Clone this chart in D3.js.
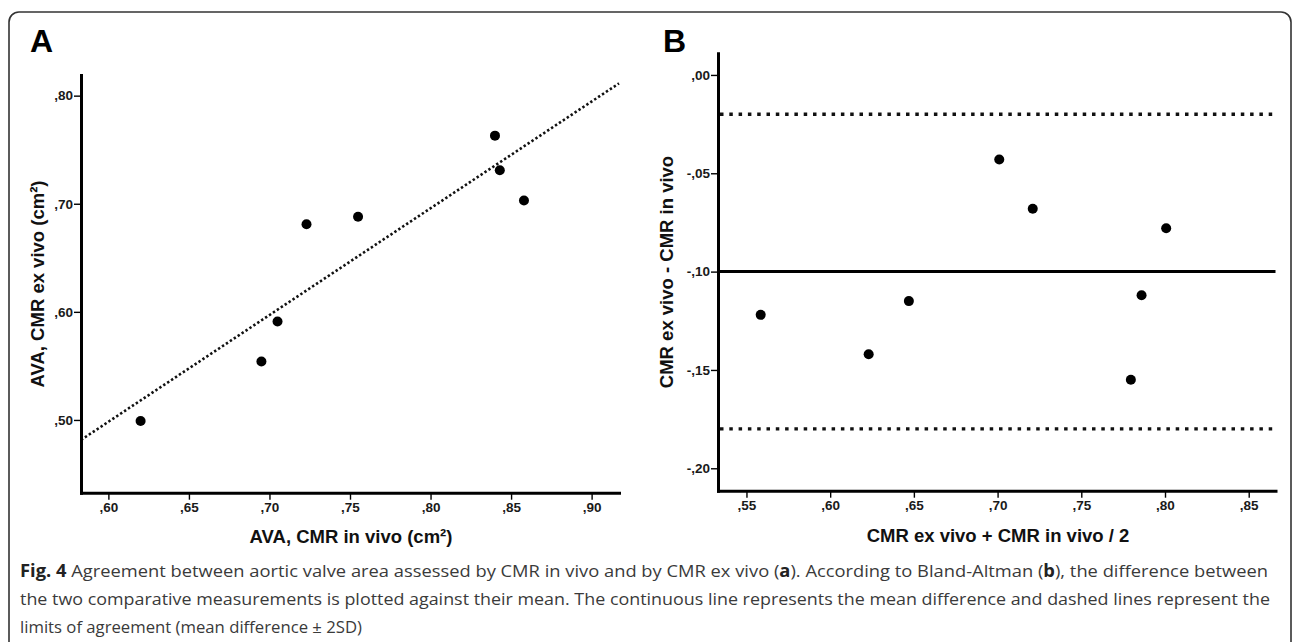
<!DOCTYPE html>
<html>
<head>
<meta charset="utf-8">
<script src="https://cdn.jsdelivr.net/npm/d3@7/dist/d3.min.js"></script>
<style>
  html, body { margin: 0; padding: 0; background: #fff; }
  svg { display: block; }
  .tick text { font-family: "Liberation Sans Narrow", "Liberation Sans", Arial, sans-serif; font-size: 13.5px; font-weight: bold; fill: #1a1a1a; }
  .axis-title { font-family: "Liberation Sans", Arial, sans-serif; font-weight: bold; fill: #111; }
  .caption { font-family: "Open Sans", sans-serif; font-size: 17px; fill: #3a3a3a; }
</style>
</head>
<body>
<script>
// panel A: AVA in vivo vs ex vivo (cm²)
var avaInVivo = [0.620, 0.695, 0.705, 0.723, 0.755, 0.840, 0.843, 0.858];
var avaExVivo = [0.499, 0.554, 0.591, 0.681, 0.688, 0.763, 0.731, 0.703];

// panel B: Bland-Altman, mean vs difference
var baMean = [0.5585, 0.623, 0.647, 0.701, 0.721, 0.7796, 0.786, 0.8007];
var baDiff = [-0.122, -0.142, -0.115, -0.043, -0.068, -0.155, -0.112, -0.078];
var meanDifference = -0.100;
var limitsOfAgreement = [-0.020, -0.180];

var ticksAX = [0.60, 0.65, 0.70, 0.75, 0.80, 0.85, 0.90];
var ticksAY = [0.50, 0.60, 0.70, 0.80];
var ticksBX = [0.55, 0.60, 0.65, 0.70, 0.75, 0.80, 0.85];
var ticksBY = [0.00, -0.05, -0.10, -0.15, -0.20];

// [text, bold]
var captionLines = [
    [["Fig. 4", true], [" Agreement between aortic valve area assessed by CMR in vivo and by CMR ex vivo (", false], ["a", true], ["). According to Bland-Altman (", false], ["b", true], ["), the difference between", false]],
    [["the two comparative measurements is plotted against their mean. The continuous line represents the mean difference and dashed lines represent the", false]],
    [["limits of agreement (mean difference \u00b1 2SD)", false]]
];
var captionWidths = [1248, 1250, 342];

var W = 1292, H = 642;
var svg = d3.select("body").append("svg").attr("width", W).attr("height", H);

svg.append("rect").attr("x", 9).attr("y", 12).attr("width", 1282).attr("height", 700)
    .attr("rx", 10).attr("fill", "none").attr("stroke", "#333").attr("stroke-width", 1.6);

// comma decimal like SPSS: ,80 / -,05
function spssFmt(v) {
    var s = d3.format(".2f")(Math.abs(v)).replace("0.", ",");
    return (v < -1e-9 ? "-" : "") + s;
}

function drawAxes(g, x, y, xt, yt) {
    var xa = g.append("g").attr("transform", "translate(0," + y.range()[0] + ")")
        .call(d3.axisBottom(x).tickValues(xt).tickFormat(spssFmt).tickSize(7).tickSizeOuter(0).tickPadding(3));
    var ya = g.append("g").attr("transform", "translate(" + x.range()[0] + ",0)")
        .call(d3.axisLeft(y).tickValues(yt).tickFormat(spssFmt).tickSize(7).tickSizeOuter(0).tickPadding(1));
    [xa, ya].forEach(function (a) {
        a.select(".domain").attr("stroke", "#000").attr("stroke-width", 3).attr("stroke-linecap", "square");
        a.selectAll(".tick line").attr("stroke", "#000").attr("stroke-width", 1.4);
    });
}

// ---------- panel A ----------
var gA = svg.append("g");
var xA = d3.scaleLinear().domain([0.583, 0.917]).range([81, 619]);
var yA = d3.scaleLinear().domain([0.4327, 0.8191]).range([492.7, 75]);

// least squares fit line
var mx = d3.mean(avaInVivo), my = d3.mean(avaExVivo);
var sxy = d3.sum(avaInVivo, function (v, i) { return (v - mx) * (avaExVivo[i] - my); });
var sxx = d3.sum(avaInVivo, function (v) { return (v - mx) * (v - mx); });
var slope = sxy / sxx, icpt = my - slope * mx;
var fitX = xA.domain();

gA.append("line")
    .attr("x1", xA(fitX[0])).attr("y1", yA(icpt + slope * fitX[0]))
    .attr("x2", xA(fitX[1])).attr("y2", yA(icpt + slope * fitX[1]))
    .attr("stroke", "#111").attr("stroke-width", 2.6).attr("stroke-dasharray", "2.4 2.3");

drawAxes(gA, xA, yA, ticksAX, ticksAY);

gA.selectAll("circle.pt").data(avaInVivo).enter().append("circle")
    .attr("cx", function (d) { return xA(d); })
    .attr("cy", function (d, i) { return yA(avaExVivo[i]); })
    .attr("r", 5).attr("fill", "#000");

gA.append("text").attr("x", 30).attr("y", 52).text("A")
    .style("font-family", "Liberation Sans, Arial, sans-serif").style("font-weight", "bold").style("font-size", "32px");

gA.append("text").attr("class", "axis-title").attr("x", 351).attr("y", 543)
    .attr("text-anchor", "middle").style("font-size", "18.5px").text("AVA, CMR in vivo (cm\u00b2)");
gA.append("text").attr("class", "axis-title").attr("transform", "translate(44,284) rotate(-90)")
    .attr("text-anchor", "middle").style("font-size", "18.5px").text("AVA, CMR ex vivo (cm\u00b2)");

// ---------- panel B ----------
var gB = svg.append("g");
var xB = d3.scaleLinear().domain([0.533, 0.866]).range([718, 1275.5]);
var yB = d3.scaleLinear().domain([-0.2114, 0.011]).range([490.7, 53.3]);

gB.selectAll("line.loa").data(limitsOfAgreement).enter().append("line")
    .attr("x1", xB.range()[0] + 2).attr("x2", xB.range()[1])
    .attr("y1", function (d) { return yB(d); }).attr("y2", function (d) { return yB(d); })
    .attr("stroke", "#111").attr("stroke-width", 3.3).attr("stroke-dasharray", "3.5 5.8");

gB.append("line")
    .attr("x1", xB.range()[0]).attr("x2", xB.range()[1])
    .attr("y1", yB(meanDifference)).attr("y2", yB(meanDifference))
    .attr("stroke", "#000").attr("stroke-width", 3);

drawAxes(gB, xB, yB, ticksBX, ticksBY);

gB.selectAll("circle.pt").data(baMean).enter().append("circle")
    .attr("cx", function (d) { return xB(d); })
    .attr("cy", function (d, i) { return yB(baDiff[i]); })
    .attr("r", 5).attr("fill", "#000");

gB.append("text").attr("x", 663).attr("y", 52).text("B")
    .style("font-family", "Liberation Sans, Arial, sans-serif").style("font-weight", "bold").style("font-size", "32px");

gB.append("text").attr("class", "axis-title").attr("x", 998).attr("y", 542)
    .attr("text-anchor", "middle").style("font-size", "18.5px").text("CMR ex vivo + CMR in vivo / 2");
gB.append("text").attr("class", "axis-title").attr("transform", "translate(673,272) rotate(-90)")
    .attr("text-anchor", "middle").style("font-size", "18.5px").text("CMR ex vivo - CMR in vivo");

// ---------- caption ----------
captionLines.forEach(function (parts, i) {
    var t = svg.append("text").attr("class", "caption").attr("x", 20).attr("y", 577 + i * 28)
        .attr("textLength", captionWidths[i]).attr("lengthAdjust", "spacingAndGlyphs");
    parts.forEach(function (p) {
        t.append("tspan").text(p[0])
            .style("font-weight", p[1] ? "bold" : "normal")
            .style("fill", p[1] ? "#222" : null);
    });
});
</script>
</body>
</html>
